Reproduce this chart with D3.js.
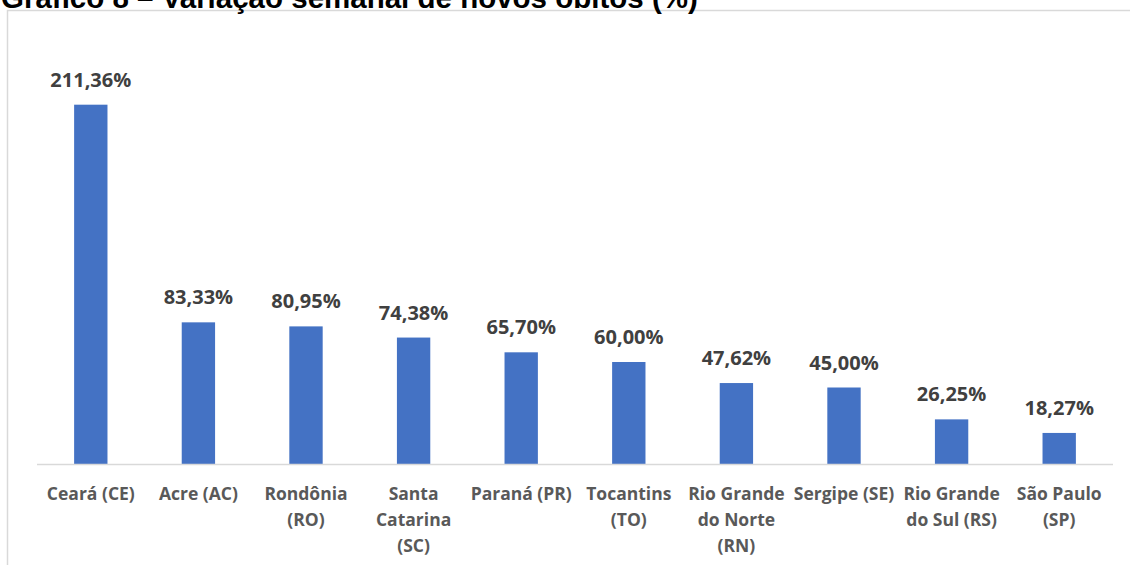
<!DOCTYPE html>
<html>
<head>
<meta charset="utf-8">
<script src="https://cdn.jsdelivr.net/npm/d3@7"></script>
<style>
  html, body { margin: 0; padding: 0; background: #fff; }
  svg { display: block; }
</style>
</head>
<body>
<div id="chart"></div>
<script>
var d3 = globalThis.d3;

// data
const states = ["Ceará (CE)", "Acre (AC)", "Rondônia (RO)", "Santa Catarina (SC)", "Paraná (PR)",
    "Tocantins (TO)", "Rio Grande do Norte (RN)", "Sergipe (SE)", "Rio Grande do Sul (RS)", "São Paulo (SP)"];
const tickLines = [
    ["Ceará (CE)"], ["Acre (AC)"], ["Rondônia", "(RO)"], ["Santa", "Catarina", "(SC)"], ["Paraná (PR)"],
    ["Tocantins", "(TO)"], ["Rio Grande", "do Norte", "(RN)"], ["Sergipe (SE)"], ["Rio Grande", "do Sul (RS)"], ["São Paulo", "(SP)"]
];
const variation = [211.36, 83.33, 80.95, 74.38, 65.70, 60.00, 47.62, 45.00, 26.25, 18.27];
const titleText = "Gráfico 8 – Variação semanal de novos óbitos (%)";

const width = 1130, height = 565;
const margin = { left: 37, right: 17, top: 39, bottom: 101 };

const svg = d3.select("#chart").append("svg")
    .attr("width", width)
    .attr("height", height);

// chart area border (cut by the page edges)
svg.append("rect")
    .attr("x", 7.5)
    .attr("y", 10.5)
    .attr("width", width)
    .attr("height", height)
    .style("fill", "none")
    .style("stroke", "#d9d9d9")
    .style("stroke-width", 1.5);

// title, clipped at top like the reference
svg.append("text")
    .attr("x", 1)
    .attr("y", 8)
    .style("font-family", "'Liberation Sans', Arial, sans-serif")
    .style("font-weight", "bold")
    .style("font-size", "29.5px")
    .style("fill", "#000")
    .text(titleText);

const x = d3.scaleBand()
    .domain(states)
    .range([margin.left, width - margin.right])
    .paddingInner(0.69)
    .paddingOuter(0.345);

const y = d3.scaleLinear()
    .domain([0, 250])
    .range([height - margin.bottom, margin.top]);

const rows = states.map((s, i) => ({ state: s, value: variation[i], lines: tickLines[i] }));

svg.selectAll(".bar")
    .data(rows)
    .enter().append("rect")
    .attr("class", "bar")
    .attr("x", d => x(d.state))
    .attr("y", d => y(d.value))
    .attr("width", x.bandwidth())
    .attr("height", d => y(0) - y(d.value))
    .style("fill", "#4472c4");

// baseline
svg.append("line")
    .attr("x1", x.range()[0])
    .attr("x2", x.range()[1])
    .attr("y1", y(0) + 0.5)
    .attr("y2", y(0) + 0.5)
    .style("stroke", "#d9d9d9")
    .style("stroke-width", 1.5);

// value labels
svg.selectAll(".val")
    .data(rows)
    .enter().append("text")
    .attr("class", "val")
    .attr("x", d => x(d.state) + x.bandwidth() / 2)
    .attr("y", d => y(d.value) - 18)
    .attr("text-anchor", "middle")
    .style("font-family", "'Open Sans', sans-serif")
    .style("font-weight", "bold")
    .style("font-size", "20px")
    .style("fill", "#404040")
    .text(d => d3.format(".2f")(d.value).replace(".", ",") + "%");

// category labels
const ticks = svg.selectAll(".tick")
    .data(rows)
    .enter().append("text")
    .attr("class", "tick")
    .attr("text-anchor", "middle")
    .style("font-family", "'Open Sans', sans-serif")
    .style("font-weight", "bold")
    .style("font-size", "17.5px")
    .style("fill", "#595959");

ticks.selectAll("tspan")
    .data(d => d.lines.map(l => ({ l, cx: x(d.state) + x.bandwidth() / 2 })))
    .enter().append("tspan")
    .attr("x", d => d.cx)
    .attr("y", (d, i) => y(0) + 36 + i * 26)
    .text(d => d.l);
</script>
</body>
</html>
